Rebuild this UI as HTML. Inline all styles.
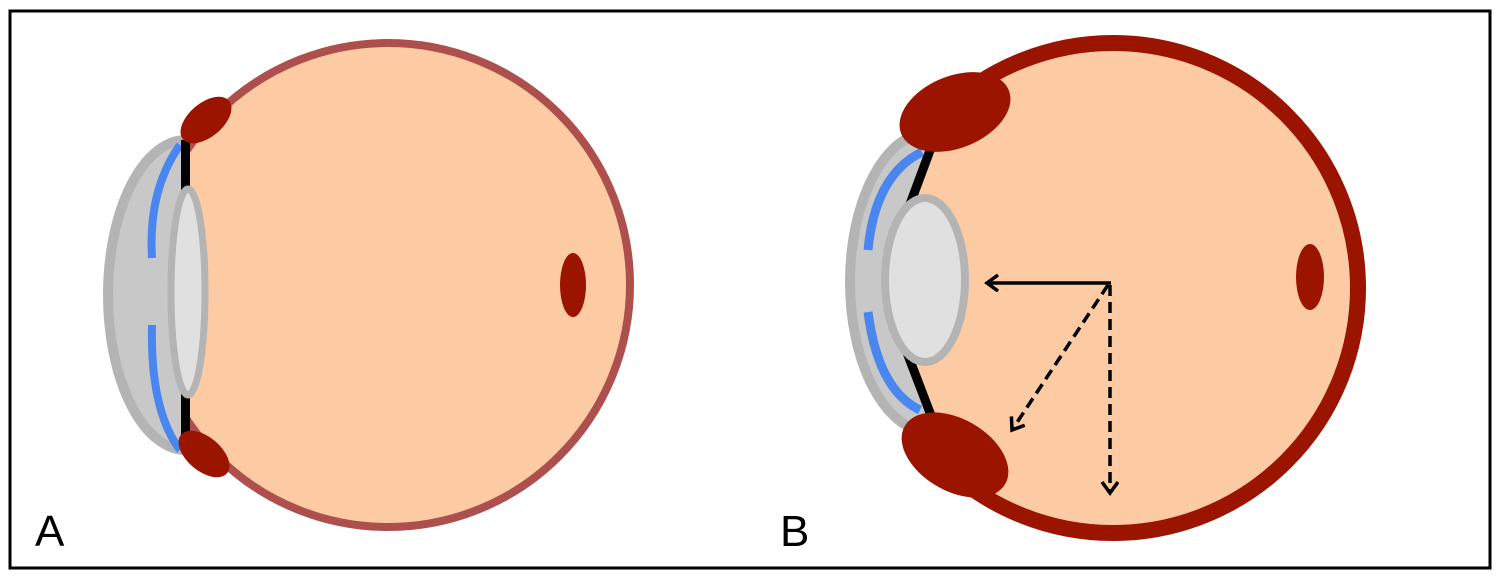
<!DOCTYPE html>
<html><head><style>html,body{margin:0;padding:0;background:#fff;}svg{display:block;}</style></head>
<body>
<svg width="1500" height="583" viewBox="0 0 1500 583" xmlns="http://www.w3.org/2000/svg">
<defs>
<clipPath id="clA"><rect x="0" y="0" width="186" height="583"/></clipPath>
<clipPath id="clAr"><rect x="185" y="0" width="600" height="583"/></clipPath>
<clipPath id="clB"><rect x="0" y="0" width="925" height="583"/></clipPath>
<clipPath id="clBr"><polygon points="945,0 934,140 905,215 905,350 934,420 945,583 1500,583 1500,0"/></clipPath>
<marker id="ah" markerWidth="20" markerHeight="20" refX="13" refY="9" orient="auto" markerUnits="userSpaceOnUse">
<path d="M2,1 L13,9 L2,17" fill="none" stroke="#000" stroke-width="3.5"/>
</marker>
</defs>
<rect x="10" y="11" width="1480" height="557" fill="#fff" stroke="#000" stroke-width="3"/>

<!-- Eye A -->
<g clip-path="url(#clA)">
<ellipse cx="186" cy="295" rx="78" ry="155" fill="#c8c8c8" stroke="#b4b4b4" stroke-width="10"/>
<path d="M180,145 Q148,190 152,258" fill="none" stroke="#4a86f0" stroke-width="8"/>
<path d="M152,325 Q150,410 180,450" fill="none" stroke="#4a86f0" stroke-width="8"/>
</g>
<circle cx="388" cy="285" r="242" fill="#fccba3" stroke="#ad4f4d" stroke-width="8" clip-path="url(#clAr)"/>
<rect x="181" y="140" width="9" height="295" fill="#000"/>
<ellipse cx="188" cy="292" rx="17" ry="103" fill="#e0e0e0" stroke="#b4b4b4" stroke-width="7"/>
<ellipse cx="206" cy="120" rx="30" ry="17" transform="rotate(-40 206 120)" fill="#9b1400"/>
<ellipse cx="204" cy="454" rx="30" ry="17" transform="rotate(40 204 454)" fill="#9b1400"/>
<ellipse cx="573" cy="285" rx="13" ry="32" fill="#9b1400"/>

<!-- Eye B -->
<g clip-path="url(#clB)">
<ellipse cx="930" cy="282" rx="80" ry="150" fill="#c8c8c8" stroke="#b4b4b4" stroke-width="10"/>
<path d="M922,152 Q875,175 868,250" fill="none" stroke="#4a86f0" stroke-width="9"/>
<path d="M868,312 Q878,390 920,410" fill="none" stroke="#4a86f0" stroke-width="9"/>
</g>
<circle cx="1113" cy="288" r="245" fill="#fccba3" stroke="#9b1400" stroke-width="16" clip-path="url(#clBr)"/>
<path d="M932,145 L906,215" stroke="#000" stroke-width="9"/>
<path d="M906,350 L932,418" stroke="#000" stroke-width="9"/>
<ellipse cx="925" cy="280" rx="40" ry="82" fill="#e0e0e0" stroke="#b4b4b4" stroke-width="8"/>
<ellipse cx="955" cy="112" rx="58" ry="36" transform="rotate(-22 955 112)" fill="#9b1400"/>
<ellipse cx="955" cy="455" rx="58" ry="36" transform="rotate(30 955 455)" fill="#9b1400"/>
<ellipse cx="1310" cy="277" rx="14" ry="33" fill="#9b1400"/>

<!-- arrows -->
<line x1="1111" y1="283" x2="987" y2="283" stroke="#000" stroke-width="3.5" marker-end="url(#ah)"/>
<line x1="1108" y1="285" x2="1012" y2="430" stroke="#000" stroke-width="3.5" stroke-dasharray="11,6" marker-end="url(#ah)"/>
<line x1="1110" y1="285" x2="1110" y2="493" stroke="#000" stroke-width="3.5" stroke-dasharray="11,6" marker-end="url(#ah)"/>

<text x="35" y="546" font-family="Liberation Sans, sans-serif" font-size="44" fill="#000">A</text>
<text x="780" y="546" font-family="Liberation Sans, sans-serif" font-size="44" fill="#000">B</text>
</svg>
</body></html>
